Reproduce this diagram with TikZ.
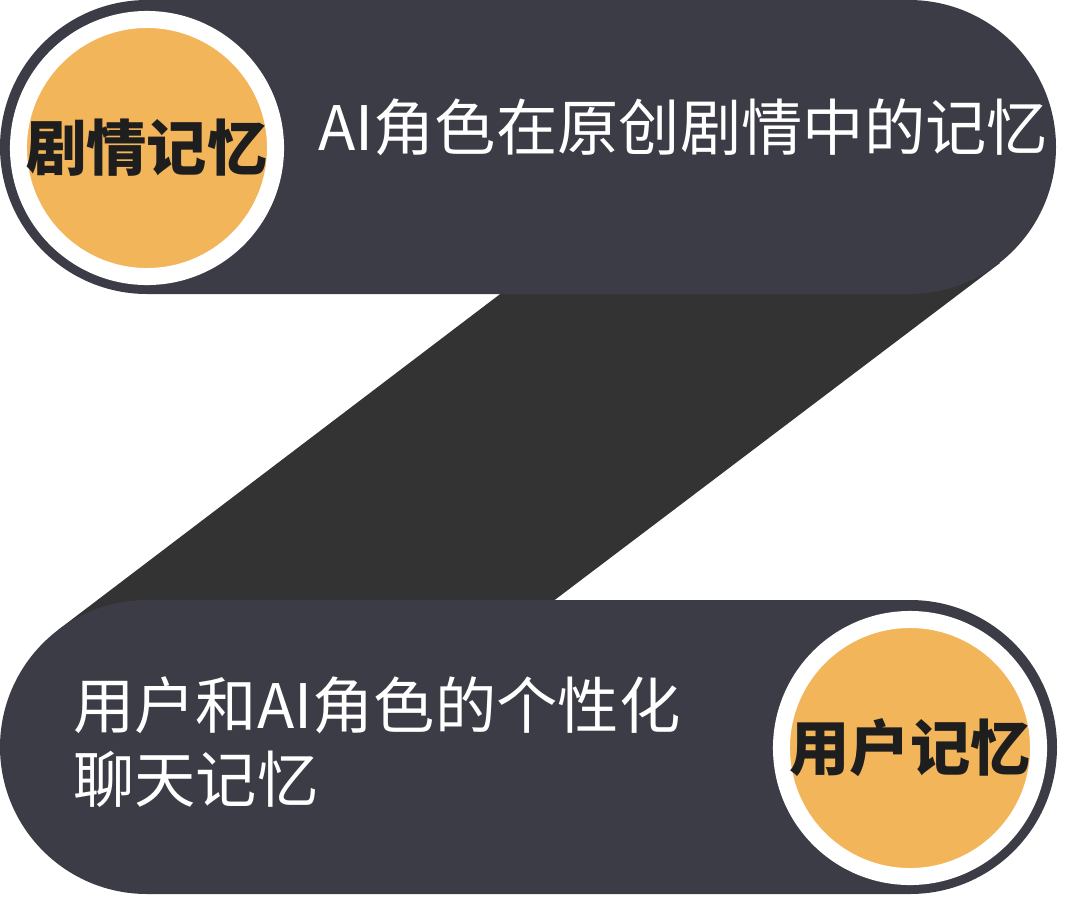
\documentclass[tikz,border=0pt]{standalone}
\usepackage{fontspec}
\newfontfamily\cjk{Noto Sans CJK SC}
\definecolor{barcol}{HTML}{3C3C47}
\definecolor{bandcol}{HTML}{333333}
\definecolor{memorange}{HTML}{F3B55A}
\definecolor{memtext}{HTML}{1E1E1E}
\begin{document}
\begin{tikzpicture}[x=0.025cm, y=-0.025cm,
    bar/.style={fill=barcol, rounded corners=3.675cm},
    memcircle/.style={circle, fill=memorange, draw=white, line width=0.425cm, minimum size=6.425cm, inner sep=0pt, text=memtext, font=\cjk\bfseries\fontsize{42.9}{52}\selectfont},
    bartext/.style={text=white, inner sep=0pt, align=left, font=\cjk\fontsize{43.6}{52.6}\selectfont}]
      \useasboundingbox (0,0) rectangle (1080,896);

      % Band
      \fill [bandcol] (541,263) -- (1000,263) -- (515,630) -- (58,630) -- cycle;

      % Bars
      \fill [bar] (0,0) rectangle (1056,294);
      \fill [bar] (0,600) rectangle (1057,894);

      % Nodes
      \node (plotmem) [memcircle] at (147,148) {剧情记忆};
      \node (usermem) [memcircle] at (910,748) {用户记忆};
      \node (plottext) [bartext, anchor=west] at (318,127) {AI角色在原创剧情中的记忆};
      \node (usertext) [bartext, anchor=west] at (73,742) {用户和AI角色的个性化\\聊天记忆};
  \end{tikzpicture}
\end{document}
